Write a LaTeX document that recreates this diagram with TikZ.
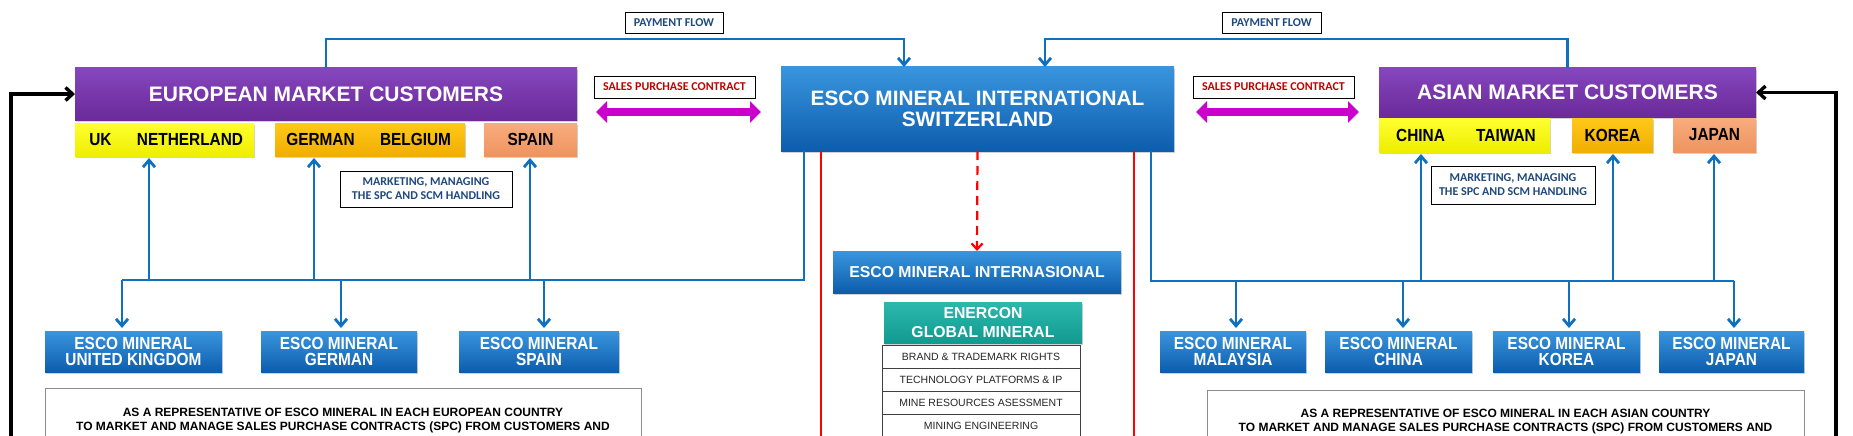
\documentclass[tikz,border=0pt]{standalone}
\usepackage{fontspec}
\setmainfont{Liberation Sans}
\newfontfamily\carlito{Carlito}
\newfontfamily\narrowsans{Liberation Sans}[FakeStretch=0.88]
\usetikzlibrary{arrows.meta,shadows}
\definecolor{purpT}{HTML}{8646BE}
\definecolor{purpB}{HTML}{6A2A99}
\definecolor{bluT}{HTML}{3A95DD}
\definecolor{bluB}{HTML}{0C5DAD}
\definecolor{lineblue}{HTML}{1070C0}
\definecolor{yelT}{HTML}{FFFF30}
\definecolor{yelB}{HTML}{EEEE00}
\definecolor{orT}{HTML}{FFC81A}
\definecolor{orB}{HTML}{F0AE00}
\definecolor{saT}{HTML}{F8AC7C}
\definecolor{saB}{HTML}{EE9460}
\definecolor{tealT}{HTML}{2DB8AE}
\definecolor{tealB}{HTML}{109A90}
\definecolor{mag}{HTML}{CC00CC}
\definecolor{darkred}{HTML}{C00000}
\definecolor{navy}{HTML}{1F497D}
\tikzset{
  base/.style={rectangle, inner sep=0pt, outer sep=0pt, align=center},
  shad/.style={drop shadow={shadow xshift=1.2pt, shadow yshift=-1.6pt, opacity=0.35}},
  purplebox/.style={base, shad, top color=purpT, bottom color=purpB, text=white,
     font=\bfseries\fontsize{21}{24}\selectfont},
  ctry/.style={base, shad, text=black, font=\narrowsans\bfseries\fontsize{17.5}{18}\selectfont},
  yelbox/.style={ctry, top color=yelT, bottom color=yelB},
  orbox/.style={ctry, top color=orT, bottom color=orB},
  sabox/.style={ctry, top color=saT, bottom color=saB},
  bluebox/.style={base, shad, top color=bluT, bottom color=bluB, text=white},
  bigblue/.style={bluebox, font=\bfseries\fontsize{20.8}{21}\selectfont},
  midblue/.style={bluebox, font=\bfseries\fontsize{15.8}{16.5}\selectfont},
  subblue/.style={bluebox, font=\narrowsans\bfseries\fontsize{17.5}{16.5}\selectfont},
  tealbox/.style={base, shad, top color=tealT, bottom color=tealB, text=white,
     font=\bfseries\fontsize{15.8}{18.5}\selectfont},
  lbl/.style={base, draw=black, line width=0.9pt, fill=white,
     font=\carlito\bfseries\fontsize{12}{14}\selectfont,
     drop shadow={shadow xshift=1pt, shadow yshift=-1pt, opacity=0.25}},
  rowbox/.style={base, draw=black!75, line width=1pt, fill=white, minimum width=198pt,
     minimum height=23pt, font=\fontsize{10.5}{12}\selectfont, text=black!85,
     drop shadow={shadow xshift=0.8pt, shadow yshift=-1pt, opacity=0.3}},
  txtbox/.style={base, draw=black!45, line width=1pt, fill=white},
  bodytxt/.style={base, font=\bfseries\fontsize{12}{14}\selectfont, text=black},
  bline/.style={lineblue, line width=2.8pt},
  barr/.style={bline, -{Straight Barb[length=7pt,width=12pt]}},
  kline/.style={black, line width=3.4pt, -{Straight Barb[length=7pt,width=13pt]}},
  rline/.style={red, line width=2pt},
  rdash/.style={red, line width=2.2pt, dash pattern=on 9pt off 6pt,
     -{Straight Barb[length=6pt,width=11pt]}},
  magarr/.style={mag, line width=8.5pt,
     {Triangle[length=11pt,width=21pt]}-{Triangle[length=11pt,width=21pt]}},
}
\begin{document}
\begin{tikzpicture}[x=1pt,y=-1pt]
\useasboundingbox (0,0) rectangle (1853,436);
\fill[white] (0,0) rectangle (1853,436);
\clip (0,0) rectangle (1853,436);

% European customers
\node[purplebox, minimum width=502pt, minimum height=52pt] (eu) at (326,94) {EUROPEAN MARKET CUSTOMERS};
\node[yelbox, minimum width=51pt, minimum height=33pt] (uk) at (100.5,139.5) {UK};
\node[yelbox, minimum width=128pt, minimum height=33pt] (nl) at (190,139.5) {NETHERLAND};
\node[orbox, minimum width=91pt, minimum height=33pt] (de) at (320.5,139.5) {GERMAN};
\node[orbox, minimum width=99pt, minimum height=33pt] (be) at (415.5,139.5) {BELGIUM};
\node[sabox, minimum width=93pt, minimum height=33pt] (es) at (530.5,139.5) {SPAIN};

% Asian customers
\node[purplebox, minimum width=377pt, minimum height=49pt] (as) at (1567.5,92.5) {ASIAN MARKET CUSTOMERS};
\node[yelbox, minimum width=83pt, minimum height=34pt] (cn) at (1420.5,135) {CHINA};
\node[yelbox, minimum width=88pt, minimum height=34pt] (tw) at (1506,135) {TAIWAN};
\node[orbox, minimum width=81pt, minimum height=34pt] (kr) at (1612.5,135) {KOREA};
\node[sabox, minimum width=83pt, minimum height=34pt] (jp) at (1714.5,135) {JAPAN};

% Centre
\node[bigblue, minimum width=393pt, minimum height=84pt] (ctr) at (977.5,109) {ESCO MINERAL INTERNATIONAL\\SWITZERLAND};

% labels
\node[lbl, text=navy, minimum width=98pt, minimum height=21pt] (pfl) at (674,22.5) {PAYMENT FLOW};
\node[lbl, text=navy, minimum width=99pt, minimum height=21pt] (pfr) at (1271.5,22.5) {PAYMENT FLOW};
\node[lbl, text=darkred, minimum width=161pt, minimum height=22pt] (spl) at (674.5,87) {SALES PURCHASE CONTRACT};
\node[lbl, text=darkred, minimum width=161pt, minimum height=22pt] (spr) at (1273.5,87) {SALES PURCHASE CONTRACT};
\node[lbl, text=navy, minimum width=172pt, minimum height=36pt] (mkl) at (426,189) {MARKETING, MANAGING\\THE SPC AND SCM HANDLING};
\node[lbl, text=navy, minimum width=164pt, minimum height=38pt] (mkr) at (1513,185) {MARKETING, MANAGING\\THE SPC AND SCM HANDLING};

% middle column
\node[midblue, minimum width=288pt, minimum height=42pt] (emi) at (977,272) {ESCO MINERAL INTERNASIONAL};
\node[tealbox, minimum width=198pt, minimum height=41pt] (egm) at (983,322.5) {ENERCON\\GLOBAL MINERAL};
\node[rowbox] (r1) at (981,356.5) {BRAND \& TRADEMARK RIGHTS};
\node[rowbox] (r2) at (981,379.5) {TECHNOLOGY PLATFORMS \& IP};
\node[rowbox] (r3) at (981,402.5) {MINE RESOURCES ASESSMENT};
\node[rowbox] (r4) at (981,425.5) {MINING ENGINEERING};

% European subsidiaries
\node[subblue, minimum width=177pt, minimum height=41pt] (euk) at (133.5,351.5) {ESCO MINERAL\\UNITED KINGDOM};
\node[subblue, minimum width=156pt, minimum height=41pt] (ede) at (339,351.5) {ESCO MINERAL\\GERMAN};
\node[subblue, minimum width=160pt, minimum height=41pt] (ees) at (539,351.5) {ESCO MINERAL\\SPAIN};

% Asian subsidiaries
\node[subblue, minimum width=146pt, minimum height=41pt] (ama) at (1233,351.5) {ESCO MINERAL\\MALAYSIA};
\node[subblue, minimum width=147pt, minimum height=41pt] (acn) at (1398.5,351.5) {ESCO MINERAL\\CHINA};
\node[subblue, minimum width=147pt, minimum height=41pt] (akr) at (1566.5,351.5) {ESCO MINERAL\\KOREA};
\node[subblue, minimum width=145pt, minimum height=41pt] (ajp) at (1731.5,351.5) {ESCO MINERAL\\JAPAN};

% description boxes
\node[txtbox, minimum width=596pt, minimum height=100pt, anchor=north] (eutb) at (343,388) {};
\node[bodytxt, anchor=base] (eut1) at (343,416) {AS A REPRESENTATIVE OF ESCO MINERAL IN EACH EUROPEAN COUNTRY};
\node[bodytxt, anchor=base] (eut2) at (343,430.7) {TO MARKET AND MANAGE SALES PURCHASE CONTRACTS (SPC) FROM CUSTOMERS AND};
\node[txtbox, minimum width=597pt, minimum height=100pt, anchor=north] (astb) at (1505.5,390) {};
\node[bodytxt, anchor=base] (ast1) at (1505.5,417) {AS A REPRESENTATIVE OF ESCO MINERAL IN EACH ASIAN COUNTRY};
\node[bodytxt, anchor=base] (ast2) at (1505.5,431.5) {TO MARKET AND MANAGE SALES PURCHASE CONTRACTS (SPC) FROM CUSTOMERS AND};

% payment flow
\coordinate (payL) at (904,39);
\coordinate (payR) at (1045,39);
\draw[barr] (eu.north) |- (payL) -- (payL |- ctr.north);
\draw[barr] (as.north) |- (payR) -- (payR |- ctr.north);

% sales purchase contracts
\coordinate (mL1) at (596,112); \coordinate (mL2) at (761,112);
\coordinate (mR1) at (1196,112); \coordinate (mR2) at (1359,112);
\draw[magarr] (mL1) -- (mL2);
\draw[magarr] (mR1) -- (mR2);

% black feedback
\coordinate (kL) at (11,445);
\coordinate (kR) at (1836,445);
\draw[kline] (kL) |- (eu.west);
\draw[kline] (kR) |- (as.east);

% red lines
\coordinate (rL) at (821,445); \coordinate (rR) at (1134,445);
\draw[rline] (rL |- ctr.south) -- (rL);
\draw[rline] (rR |- ctr.south) -- (rR);
\draw[rdash] (ctr.south) -- (emi.north);

% European bus
\coordinate (eb0) at (804,280);
\coordinate (ebL) at (122,280);
\draw[bline] (ctr.south -| eb0) -- (eb0) -- (ebL);
\coordinate (eu1) at (149,280); \coordinate (eu2) at (314,280); \coordinate (eu3) at (530,280);
\draw[barr, shorten >=2pt] (eu1) -- (eu1 |- nl.south);
\draw[barr, shorten >=2pt] (eu2) -- (eu2 |- de.south);
\draw[barr, shorten >=2pt] (eu3) -- (eu3 |- es.south);
\coordinate (ed2) at (341,280); \coordinate (ed3) at (544,280);
\draw[barr, shorten >=3pt] (ebL) -- (ebL |- euk.north);
\draw[barr, shorten >=3pt] (ed2) -- (ed2 |- ede.north);
\draw[barr, shorten >=3pt] (ed3) -- (ed3 |- ees.north);

% Asian bus
\coordinate (ab0) at (1151,281);
\coordinate (abR) at (1734,281);
\draw[bline] (ctr.south -| ab0) -- (ab0) -- (abR);
\coordinate (au1) at (1421,281); \coordinate (au2) at (1613,281); \coordinate (au3) at (1714,281);
\draw[barr, shorten >=2pt] (au1) -- (au1 |- cn.south);
\draw[barr, shorten >=2pt] (au2) -- (au2 |- kr.south);
\draw[barr, shorten >=2pt] (au3) -- (au3 |- jp.south);
\coordinate (ad1) at (1236,281); \coordinate (ad2) at (1403,281); \coordinate (ad3) at (1569,281);
\draw[barr, shorten >=3pt] (ad1) -- (ad1 |- ama.north);
\draw[barr, shorten >=3pt] (ad2) -- (ad2 |- acn.north);
\draw[barr, shorten >=3pt] (ad3) -- (ad3 |- akr.north);
\draw[barr, shorten >=3pt] (abR) -- (abR |- ajp.north);
\end{tikzpicture}
\end{document}
